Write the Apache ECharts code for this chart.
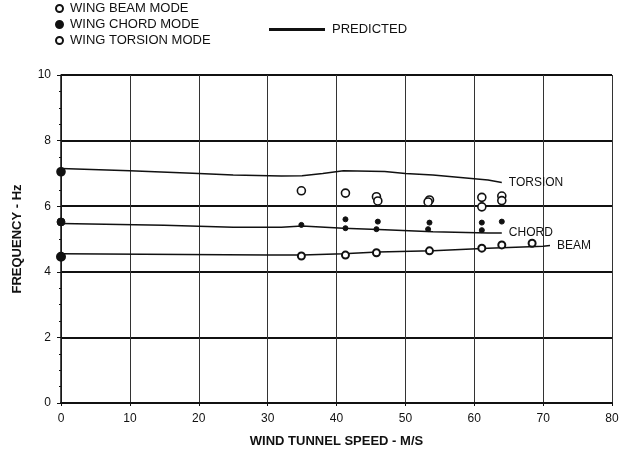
<!DOCTYPE html>
<html>
<head>
<meta charset="utf-8">
<script src="https://cdn.jsdelivr.net/npm/echarts@6/dist/echarts.min.js"></script>
<style>html,body{margin:0;padding:0;background:#fff;}#c{width:623px;height:451px;}</style>
</head>
<body>
<div id="c"></div>
<script>
// ---- data (speed m/s, frequency Hz) ----
const xTicks = [0, 10, 20, 30, 40, 50, 60, 70, 80];
const yTicks = [0, 2, 4, 6, 8, 10];

const beamMeasured = [[0, 4.46], [34.9, 4.48], [41.3, 4.51], [45.8, 4.58], [53.5, 4.64], [61.1, 4.72], [64.0, 4.82], [68.4, 4.87]];
const chordMeasured = [[0, 5.52], [34.9, 5.43], [41.3, 5.33], [45.8, 5.30], [53.3, 5.30], [53.5, 5.50], [61.1, 5.50], [61.1, 5.27], [64.0, 5.53], [41.3, 5.60], [46.0, 5.53]];
const torsionMeasured = [[0, 7.05], [34.9, 6.47], [41.3, 6.40], [45.8, 6.29], [46.0, 6.16], [53.5, 6.19], [53.3, 6.13], [61.1, 6.27], [61.1, 5.98], [64.0, 6.31], [64.0, 6.17]];

const torsionPredicted = [[0, 7.15], [10, 7.08], [20, 7.0], [25, 6.95], [32, 6.92], [35, 6.93], [38, 7.0], [41, 7.08], [47, 7.06], [50, 7.0], [54, 6.95], [62, 6.8], [64, 6.72]];
const chordPredicted = [[0, 5.47], [15, 5.42], [25, 5.36], [32, 5.36], [35, 5.4], [41, 5.33], [47, 5.28], [54, 5.22], [62, 5.18], [64, 5.18]];
const beamPredicted = [[0, 4.55], [30, 4.51], [35, 4.51], [41, 4.55], [46, 4.6], [54, 4.64], [62, 4.72], [70, 4.78], [71, 4.8]];

const FONT = 'Liberation Sans';
const INK = '#111';

// points sitting on the axis are drawn as solid blobs
function styled(points) {
  return points.map(p => p[0] === 0
    ? { value: p, symbolSize: 8, itemStyle: { color: INK, borderColor: INK } }
    : p);
}

function predLine(data, label) {
  return {
    name: 'PREDICTED', type: 'line', data: data, symbol: 'none', smooth: false,
    lineStyle: { color: INK, width: 1.5 }, itemStyle: { color: INK },
    endLabel: { show: true, formatter: label, color: INK, fontFamily: FONT, fontSize: 12, distance: 7 },
    z: 2
  };
}

const chart = echarts.init(document.getElementById('c'), null, { renderer: 'canvas' });
chart.setOption({
  animation: false,
  backgroundColor: '#fff',
  grid: { left: 61, right: 11, top: 75, bottom: 48, outerBoundsMode: 'none', containLabel: false },
  legend: [
    {
      data: ['WING BEAM MODE', 'WING CHORD MODE', 'WING TORSION MODE'],
      orient: 'vertical', left: 55, top: 2, padding: 0, itemGap: 3, itemWidth: 7, itemHeight: 7,
      textStyle: { fontFamily: FONT, fontSize: 13, color: INK, padding: [0, 0, 0, 2] }
    },
    {
      data: [{ name: 'PREDICTED', icon: 'rect' }],
      left: 269, top: 23, padding: 0, itemWidth: 56, itemHeight: 3, itemGap: 0,
      textStyle: { fontFamily: FONT, fontSize: 13, color: INK, padding: [0, 0, 0, 2] }
    }
  ],
  xAxis: {
    type: 'value', min: 0, max: 80, interval: 10,
    name: 'WIND TUNNEL SPEED - M/S', nameLocation: 'middle', nameGap: 32,
    nameTextStyle: { fontFamily: FONT, fontSize: 13, fontWeight: 'bold', color: INK },
    axisLine: { show: true, lineStyle: { color: INK, width: 2 } },
    axisTick: { show: true, length: 3, inside: false, lineStyle: { color: INK } },
    axisLabel: { fontFamily: FONT, fontSize: 12, color: INK, margin: 10,
      customValues: xTicks },
    splitLine: { show: true, lineStyle: { color: '#333', width: 1 } }
  },
  yAxis: {
    type: 'value', min: 0, max: 10, interval: 2,
    name: 'FREQUENCY - Hz', nameLocation: 'middle', nameGap: 37, nameRotate: 90,
    nameTextStyle: { fontFamily: FONT, fontSize: 13, fontWeight: 'bold', color: INK },
    axisLine: { show: true, lineStyle: { color: INK, width: 1.5 } },
    axisTick: { show: true, length: 4, lineStyle: { color: INK } },
    minorTick: { show: true, splitNumber: 4, length: 2, lineStyle: { color: INK } },
    axisLabel: { fontFamily: FONT, fontSize: 12, color: INK, margin: 10, customValues: yTicks },
    splitLine: { show: true, lineStyle: { color: INK, width: 2 } }
  },
  series: [
    { name: 'WING BEAM MODE', type: 'scatter', data: styled(beamMeasured), symbol: 'circle', symbolSize: 7,
      itemStyle: { color: '#fff', borderColor: INK, borderWidth: 2, opacity: 1 }, z: 5 },
    { name: 'WING CHORD MODE', type: 'scatter', data: styled(chordMeasured), symbol: 'circle', symbolSize: 5,
      itemStyle: { color: INK, borderColor: INK, borderWidth: 1, opacity: 1 }, z: 5 },
    { name: 'WING TORSION MODE', type: 'scatter', data: styled(torsionMeasured), symbol: 'circle', symbolSize: 8,
      itemStyle: { color: '#fff', borderColor: INK, borderWidth: 1.6, opacity: 1 }, z: 5 },
    predLine(torsionPredicted, 'TORSION'),
    predLine(chordPredicted, 'CHORD'),
    predLine(beamPredicted, 'BEAM')
  ]
});
</script>
</body>
</html>
